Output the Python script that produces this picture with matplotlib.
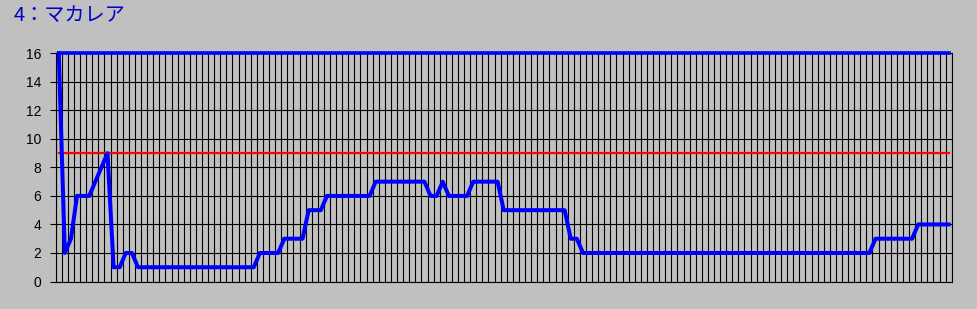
import numpy as np
import matplotlib as mpl
mpl.use('Agg')
import matplotlib.pyplot as plt

# values, one per category (147 categories)
levels = [16, 2, 3, 6, 6, 6, 7, 8, 9, 1, 1, 2, 2] + [1] * 20 + [2] * 4 + [3] * 4 \
    + [5] * 3 + [6] * 8 + [7] * 9 + [6, 6, 7] + [6] * 4 + [7] * 5 + [5] * 11 \
    + [3] * 2 + [2] * 48 + [3] * 7 + [4] * 6
upper_limit = [16] * len(levels)
threshold = [9] * len(levels)
y_ticks = [0, 2, 4, 6, 8, 10, 12, 14, 16]
title = "4：マカレア"

plt.rcParams['font.family'] = ['Liberation Sans', 'DejaVu Sans']

bg = '#c0c0c0'
n = len(levels)
x = np.arange(n)

fig = plt.figure(figsize=(9.77, 3.09), dpi=100, facecolor=bg)
ax = fig.add_axes([55.7 / 977, 1 - 281.5 / 309, 896 / 977, 228.2 / 309])
ax.set_facecolor(bg)

# category gridlines at boundaries, value gridlines every 2
for b in np.arange(-0.5, n, 1):
    ax.axvline(b, color='black', lw=0.8, zorder=1)
for v in y_ticks:
    ax.axhline(v, color='black', lw=0.8, zorder=1)

ax.plot(x, threshold, color='#ff0000', lw=1.6, zorder=3)
ax.plot(x, upper_limit, color='#0000ff', lw=2.6, zorder=4, clip_on=False)
ax.plot(x, levels, color='#0000ff', lw=2.9, zorder=5, clip_on=False)

ax.set_xlim(-0.5, n - 0.5)
ax.set_ylim(0, 16)
ax.set_xticks([])
ax.set_yticks(y_ticks)
ax.tick_params(axis='y', length=4, width=0.8, pad=6.5, labelsize=10, colors='black')
for s in ax.spines.values():
    s.set_color('black')
    s.set_linewidth(0.8)

fig.text(14 / 977, 1 - 21 / 309, title, color='#0000c8', fontsize=14.5,
         family=['Noto Sans CJK JP', 'DejaVu Sans'], ha='left', va='baseline')

fig.savefig('out.png', dpi=100, facecolor=bg)
